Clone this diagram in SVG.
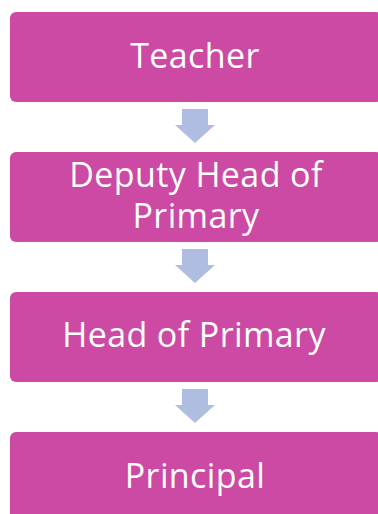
<svg xmlns="http://www.w3.org/2000/svg" width="378" height="514" viewBox="0 0 378 514">
<style>
.box{fill:#CC4AA3}
.lbl{font-family:"Open Sans","Noto Sans",sans-serif;font-size:34px;letter-spacing:0.4px;fill:#FFFFFF;text-anchor:middle}
.arr{fill:#AFBDE0}
</style>
<rect width="378" height="514" fill="#FFFFFF"/>
<g id="connectors">
<path class="arr" d="M182,109 H208 V125 H215 L195,143 L175,125 H182 Z"/>
<path class="arr" d="M182,249 H208 V265 H215 L195,283 L175,265 H182 Z"/>
<path class="arr" d="M182,389 H208 V405 H215 L195,423 L175,405 H182 Z"/>
</g>
<g id="teacher">
<rect class="box" x="10" y="12" width="372" height="90" rx="6"/>
<text class="lbl" x="195" y="68">Teacher</text>
</g>
<g id="deputy">
<rect class="box" x="10" y="152" width="372" height="90" rx="6"/>
<text class="lbl" x="196" y="187">Deputy Head of</text>
<text class="lbl" x="196" y="228">Primary</text>
</g>
<g id="head">
<rect class="box" x="10" y="292" width="372" height="90" rx="6"/>
<text class="lbl" x="194" y="347">Head of Primary</text>
</g>
<g id="principal">
<rect class="box" x="10" y="432" width="372" height="90" rx="6"/>
<text class="lbl" x="195" y="488">Principal</text>
</g>
</svg>
